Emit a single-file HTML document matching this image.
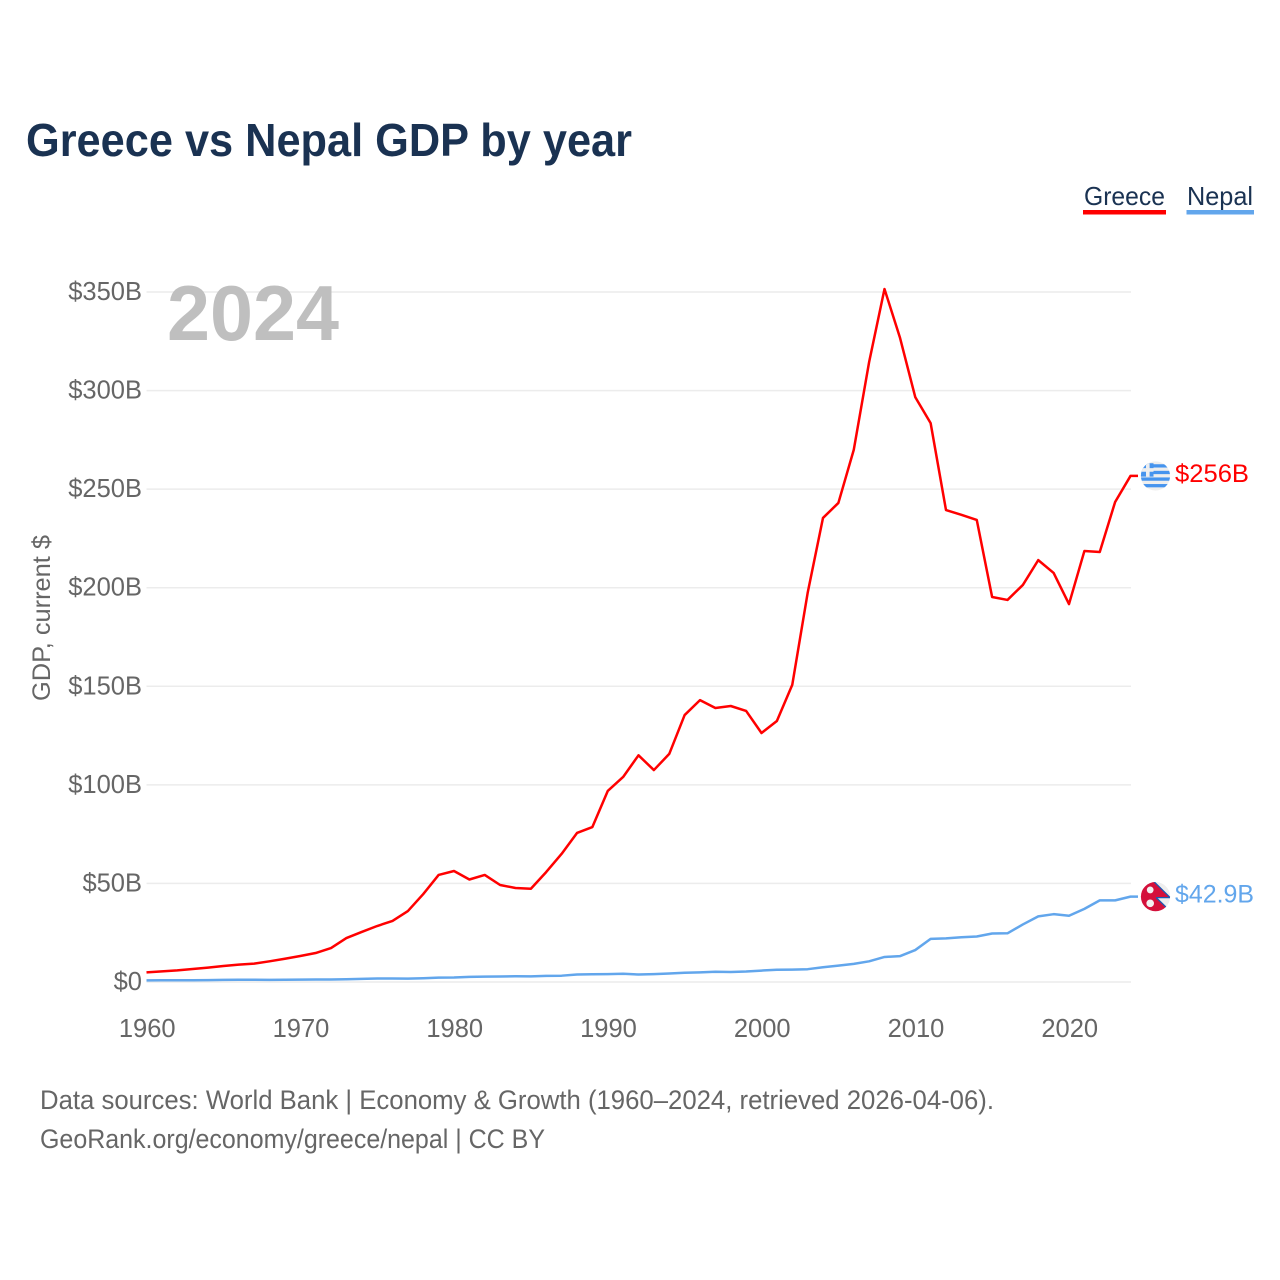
<!DOCTYPE html>
<html lang="en">
<head>
<meta charset="utf-8">
<title>Greece vs Nepal GDP by year</title>
<style>
html,body{margin:0;padding:0;background:#fff;width:1280px;height:1280px;overflow:hidden}
svg{display:block}
text{font-family:"Liberation Sans",sans-serif}
</style>
</head>
<body>
<svg id="chart" xmlns="http://www.w3.org/2000/svg" width="1280" height="1280" viewBox="0 0 1280 1280">
  <defs>
    <clipPath id="flag-clip"><circle cx="0" cy="0" r="14.6"/></clipPath>
  </defs>
  <rect width="1280" height="1280" fill="#fff"/>
  <text x="26" y="156" font-size="46" font-weight="700" fill="#1a3252" textLength="606" lengthAdjust="spacingAndGlyphs">Greece vs Nepal GDP by year</text>

  <g>
    <g>
      <text x="1084" y="205" font-size="26" fill="#1a3252" textLength="81" lengthAdjust="spacingAndGlyphs">Greece</text>
      <rect x="1083" y="210" width="83" height="4.5" fill="#ff0000"/>
    </g>
    <g>
      <text x="1187" y="205" font-size="26" fill="#1a3252" textLength="66" lengthAdjust="spacingAndGlyphs">Nepal</text>
      <rect x="1186.5" y="210" width="67.5" height="4.5" fill="#62a6ec"/>
    </g>
  </g>

  <g id="grid"></g>
  <g id="y-ticks"></g>
  <g id="x-ticks"></g>

  <text transform="translate(50 618) rotate(-90)" text-anchor="middle" font-size="25" fill="#666" textLength="166" lengthAdjust="spacingAndGlyphs">GDP, current $</text>
  <text x="167" y="340" font-size="78" font-weight="700" fill="#bfbfbf" textLength="172" lengthAdjust="spacingAndGlyphs">2024</text>

  <g id="series"></g>

  <g id="flag-greece">
    <g clip-path="url(#flag-clip)">
      <rect x="-15" y="-15" width="30" height="30" fill="#eeeeee"/>
      <rect x="-15" y="-11.7" width="30" height="3.3" fill="#4694ee"/>
      <rect x="-15" y="-5.1" width="30" height="3.3" fill="#4694ee"/>
      <rect x="-15" y="1.5" width="30" height="3.3" fill="#4694ee"/>
      <rect x="-15" y="8.1" width="30" height="3.3" fill="#4694ee"/>
      <rect x="-15" y="-12.7" width="13" height="13.4" fill="#4694ee"/>
      <rect x="-9.5" y="-12.7" width="3.6" height="13.4" fill="#eeeeee"/>
      <rect x="-15" y="-7.8" width="13" height="3.6" fill="#eeeeee"/>
    </g>
  </g>
  <g id="flag-nepal">
    <g clip-path="url(#flag-clip)">
      <rect x="-15" y="-15" width="30" height="30" fill="#eeeeee"/>
      <polygon points="-16,-18 -2,-15.5 14.7,1 0.7,1 13.5,13.3 13.5,16 -16,16" fill="#d4103b"/>
      <polyline points="-2,-15.5 14.7,1 0.7,1" fill="none" stroke="#1c5ab0" stroke-width="1.3"/>
      <line x1="0.7" y1="1" x2="13.5" y2="13.3" stroke="#1c5ab0" stroke-width="1.3"/>
      <circle cx="-5.3" cy="-6.7" r="3.4" fill="#f2f2f2"/>
      <circle cx="-5.3" cy="6.7" r="3.8" fill="#f2f2f2"/>
    </g>
  </g>

  <text id="label-greece" x="1175" font-size="25" fill="#ff0000" textLength="74" lengthAdjust="spacingAndGlyphs">$256B</text>
  <text id="label-nepal" x="1175" font-size="25" fill="#62a6ec" textLength="79" lengthAdjust="spacingAndGlyphs">$42.9B</text>

  <g>
    <text x="40" y="1109" font-size="27" fill="#666" textLength="954" lengthAdjust="spacingAndGlyphs">Data sources: World Bank | Economy &amp; Growth (1960–2024, retrieved 2026-04-06).</text>
    <text x="40" y="1148" font-size="27" fill="#666" textLength="505" lengthAdjust="spacingAndGlyphs">GeoRank.org/economy/greece/nepal | CC BY</text>
  </g>
</svg>
<script>
const startYear = 1960;
const yTickValues = [0, 50, 100, 150, 200, 250, 300, 350];
const yTickLabels = ["$0", "$50B", "$100B", "$150B", "$200B", "$250B", "$300B", "$350B"];
const xTickYears = [1960, 1970, 1980, 1990, 2000, 2010, 2020];
const greeceValues = [4.9, 5.4, 5.9, 6.6, 7.3, 8.1, 8.8, 9.3, 10.5, 11.8, 13.2, 14.7, 17.2, 22.3, 25.4, 28.4, 31, 36, 44.6, 54.3, 56.3, 52, 54.3, 49.2, 47.7, 47.3, 55.8, 65, 75.6, 78.6, 96.9, 104, 115, 107.5, 115.7, 135.4, 143, 139, 140, 137.5, 126.3, 132.4, 150.7, 197.3, 235.4, 243, 269.9, 314.5, 351.5, 327, 296.7, 283.5, 239.4, 237, 234.4, 195.3, 193.8, 201.4, 214, 207.5, 191.7, 218.6, 218.1, 243.5, 256.7];
const nepalValues = [0.85, 0.9, 0.9, 0.9, 0.95, 1.05, 1.15, 1.15, 1.1, 1.15, 1.2, 1.25, 1.3, 1.4, 1.6, 1.8, 1.75, 1.7, 1.9, 2.2, 2.25, 2.6, 2.7, 2.8, 2.9, 2.85, 3.1, 3.2, 3.8, 3.9, 4.0, 4.2, 3.8, 4.0, 4.3, 4.7, 4.9, 5.2, 5.1, 5.3, 5.8, 6.2, 6.3, 6.5, 7.5, 8.3, 9.2, 10.5, 12.7, 13.1, 16.2, 21.9, 22.1, 22.7, 23.1, 24.6, 24.7, 29.2, 33.3, 34.4, 33.6, 37.1, 41.4, 41.4, 43.3];

const NS = "http://www.w3.org/2000/svg";
const connectorEndX = 1138;
const xScale = function (year) { return 146.5 + (year - 1960) * 15.375; };
const yScale = function (value) { return 982 - value * 690 / 350; };

const grid = document.getElementById("grid");
const yTicks = document.getElementById("y-ticks");
yTickValues.forEach(function (v, i) {
  const line = document.createElementNS(NS, "line");
  
  
  line.setAttribute("x1", xScale(1960));
  line.setAttribute("x2", xScale(2024) + 0.5);
  line.setAttribute("y1", yScale(v));
  line.setAttribute("y2", yScale(v));
  line.setAttribute("stroke", "#ececec");
  line.setAttribute("stroke-width", "1.5");
  grid.appendChild(line);

  const label = document.createElementNS(NS, "text");
  
  
  label.setAttribute("x", 142);
  label.setAttribute("y", yScale(v) + 8);
  label.setAttribute("text-anchor", "end");
  label.setAttribute("font-size", "25.5");
  label.setAttribute("fill", "#666");
  label.textContent = yTickLabels[i];
  yTicks.appendChild(label);
});

const xTicks = document.getElementById("x-ticks");
xTickYears.forEach(function (yr) {
  const label = document.createElementNS(NS, "text");
  
  
  label.setAttribute("x", xScale(yr) + 0.7);
  label.setAttribute("y", 1037);
  label.setAttribute("text-anchor", "middle");
  label.setAttribute("font-size", "25.5");
  label.setAttribute("fill", "#666");
  label.textContent = String(yr);
  xTicks.appendChild(label);
});

const seriesGroup = document.getElementById("series");
function pointsFor(values) {
  const pts = values.map(function (v, i) {
    return xScale(startYear + i).toFixed(2) + "," + yScale(v).toFixed(2);
  });
  pts.push(connectorEndX + "," + yScale(values[values.length - 1]).toFixed(2));
  return pts.join(" ");
}

const greeceLine = document.createElementNS(NS, "polyline");


greeceLine.setAttribute("points", pointsFor(greeceValues));
greeceLine.setAttribute("fill", "none");
greeceLine.setAttribute("stroke", "#ff0000");
greeceLine.setAttribute("stroke-width", "2.5");
greeceLine.setAttribute("stroke-linejoin", "round");
seriesGroup.appendChild(greeceLine);

const nepalLine = document.createElementNS(NS, "polyline");


nepalLine.setAttribute("points", pointsFor(nepalValues));
nepalLine.setAttribute("fill", "none");
nepalLine.setAttribute("stroke", "#62a6ec");
nepalLine.setAttribute("stroke-width", "2.5");
nepalLine.setAttribute("stroke-linejoin", "round");
seriesGroup.appendChild(nepalLine);

const greeceEnd = yScale(greeceValues[greeceValues.length - 1]);
const nepalEnd = yScale(nepalValues[nepalValues.length - 1]);
document.getElementById("flag-greece").setAttribute("transform", "translate(1155.5 " + greeceEnd + ")");
document.getElementById("flag-nepal").setAttribute("transform", "translate(1155.5 " + nepalEnd + ")");
document.getElementById("label-greece").setAttribute("y", greeceEnd + 6);
document.getElementById("label-nepal").setAttribute("y", nepalEnd + 6);
</script>
</body>
</html>
